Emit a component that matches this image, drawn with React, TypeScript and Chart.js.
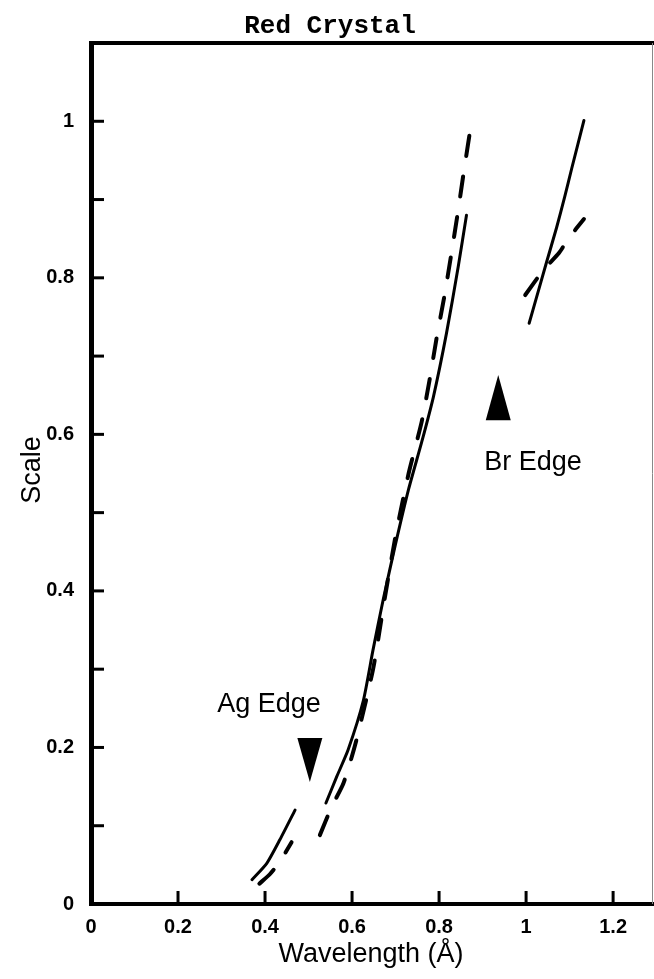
import React, { useEffect, useRef } from 'react';
import { Chart, registerables } from 'chart.js';

Chart.register(...registerables);

// ---- text ----
const chartTitle = 'Red Crystal';
const xAxisTitle = 'Wavelength (Å)';
const yAxisTitle = 'Scale';

// ---- axes ----
const xMin = 0;
const xMax = 1.294;
const yMin = 0;
const yMax = 1.1;
const xTickValues = [0, 0.2, 0.4, 0.6, 0.8, 1, 1.2];
const yTickValues = [0, 0.1, 0.2, 0.3, 0.4, 0.5, 0.6, 0.7, 0.8, 0.9, 1];
const yLabelValues = [0, 0.2, 0.4, 0.6, 0.8, 1];

// ---- series: solid curve ----
const solidAgLowX = [0.37, 0.404, 0.434, 0.469];
const solidAgLowY = [0.031, 0.052, 0.082, 0.12];
const solidAgHighX = [0.54, 0.565, 0.591, 0.626, 0.648, 0.672, 0.7, 0.73, 0.76, 0.787, 0.817, 0.844, 0.863];
const solidAgHighY = [0.129, 0.163, 0.197, 0.26, 0.324, 0.39, 0.46, 0.53, 0.59, 0.648, 0.729, 0.814, 0.88];
const solidBrX = [1.007, 1.023, 1.046, 1.07, 1.089, 1.105, 1.133];
const solidBrY = [0.742, 0.773, 0.818, 0.864, 0.904, 0.94, 1.001];

// ---- series: dashed curve ----
const dashAgLowX = [0.387, 0.411, 0.434, 0.461];
const dashAgLowY = [0.026, 0.038, 0.054, 0.079];
const dashAgHighX = [0.526, 0.553, 0.58, 0.607, 0.648, 0.675, 0.7, 0.73, 0.76, 0.778, 0.794, 0.812, 0.828, 0.843, 0.857, 0.875];
const dashAgHighY = [0.088, 0.124, 0.154, 0.203, 0.299, 0.39, 0.47, 0.55, 0.616, 0.669, 0.722, 0.776, 0.83, 0.883, 0.936, 1.001];
const dashBrX = [0.998, 1.04, 1.076, 1.097, 1.133];
const dashBrY = [0.778, 0.81, 0.832, 0.85, 0.875];

// ---- edge markers ----
const edgeNames = ['Ag Edge', 'Br Edge'];
const edgeX = [0.503, 0.936];
const edgeTipY = [0.156, 0.676];
const edgeBaseY = [0.212, 0.618];
const edgeLabelX = [0.409, 1.016];
const edgeLabelY = [0.245, 0.554];

const FONT = '"Liberation Sans", Arial, Helvetica, sans-serif';

function pts(xs: number[], ys: number[]) {
  return xs.map((x, i) => ({ x, y: ys[i] }));
}

function solid(xs: number[], ys: number[]) {
  return {
    data: pts(xs, ys),
    showLine: true,
    borderColor: '#000',
    borderWidth: 3,
    pointRadius: 0,
    tension: 0.2,
    borderCapStyle: 'round' as const,
    borderJoinStyle: 'round' as const,
  };
}

function dashed(xs: number[], ys: number[]) {
  return {
    data: pts(xs, ys),
    showLine: true,
    borderColor: '#000',
    borderWidth: 4,
    pointRadius: 0,
    borderDash: [20, 21],
    tension: 0.2,
    borderCapStyle: 'round' as const,
    borderJoinStyle: 'round' as const,
  };
}

const decorPlugin = {
  id: 'decor',
  afterDraw(chart: any) {
    const ctx = chart.ctx as CanvasRenderingContext2D;
    const xs = chart.scales.x;
    const ys = chart.scales.y;
    const area = chart.chartArea;
    ctx.save();
    // frame (top and right)
    ctx.strokeStyle = '#000';
    ctx.lineWidth = 4;
    ctx.beginPath();
    ctx.moveTo(area.left - 2, area.top);
    ctx.lineTo(area.right, area.top);
    ctx.stroke();
    ctx.strokeStyle = '#888';
    ctx.lineWidth = 1;
    ctx.beginPath();
    ctx.moveTo(area.right - 1.5, area.top);
    ctx.lineTo(area.right - 1.5, area.bottom);
    ctx.stroke();
    // inward ticks
    ctx.strokeStyle = '#000';
    ctx.lineWidth = 3;
    yTickValues.forEach((v) => {
      if (v === 0) return;
      const py = ys.getPixelForValue(v);
      ctx.beginPath();
      ctx.moveTo(area.left, py);
      ctx.lineTo(area.left + 13, py);
      ctx.stroke();
    });
    xTickValues.forEach((v) => {
      if (v === 0) return;
      const px = xs.getPixelForValue(v);
      ctx.beginPath();
      ctx.moveTo(px, area.bottom);
      ctx.lineTo(px, area.bottom - 13);
      ctx.stroke();
    });
    // edge triangles
    ctx.fillStyle = '#000';
    edgeX.forEach((ex, i) => {
      const px = xs.getPixelForValue(ex);
      const tip = ys.getPixelForValue(edgeTipY[i]);
      const base = ys.getPixelForValue(edgeBaseY[i]);
      ctx.beginPath();
      ctx.moveTo(px, tip);
      ctx.lineTo(px - 12.5, base);
      ctx.lineTo(px + 12.5, base);
      ctx.closePath();
      ctx.fill();
    });
    // edge labels
    ctx.font = `27px ${FONT}`;
    ctx.textAlign = 'center';
    ctx.textBaseline = 'alphabetic';
    edgeNames.forEach((name, i) => {
      ctx.fillText(name, xs.getPixelForValue(edgeLabelX[i]), ys.getPixelForValue(edgeLabelY[i]));
    });
    // axis titles
    ctx.textBaseline = 'middle';
    ctx.fillText(xAxisTitle, (area.left + 651) / 2, 955);
    ctx.save();
    ctx.translate(33, 470);
    ctx.rotate(-Math.PI / 2);
    ctx.fillText(yAxisTitle, 0, 0);
    ctx.restore();
    // chart title
    ctx.font = `bold 26px "Liberation Mono", "DejaVu Sans Mono", monospace`;
    ctx.fillText(chartTitle, 330, 26);
    ctx.restore();
  },
};

export default function App() {
  const ref = useRef<HTMLCanvasElement | null>(null);
  useEffect(() => {
    if (!ref.current) return;
    const chart = new Chart(ref.current, {
      type: 'scatter',
      data: {
        datasets: [
          solid(solidAgLowX, solidAgLowY),
          solid(solidAgHighX, solidAgHighY),
          solid(solidBrX, solidBrY),
          dashed(dashAgLowX, dashAgLowY),
          dashed(dashAgHighX, dashAgHighY),
          dashed(dashBrX, dashBrY),
        ] as any,
      },
      options: {
        responsive: false,
        animation: false,
        devicePixelRatio: 1,
        layout: { padding: { top: 43, right: 0, left: 0, bottom: 0 } },
        plugins: {
          legend: { display: false },
          title: { display: false },
          tooltip: { enabled: false },
        },
        scales: {
          x: {
            type: 'linear',
            min: xMin,
            max: xMax,
            afterBuildTicks: (scale: any) => {
              scale.ticks = xTickValues.map((v) => ({ value: v }));
            },
            afterFit: (scale: any) => {
              scale.height = 75;
            },
            grid: { display: false, drawTicks: false },
            border: { display: true, color: '#000', width: 4 },
            ticks: {
              padding: 11,
              color: '#000',
              maxRotation: 0,
              autoSkip: false,
              font: { family: FONT, size: 20, weight: 'bold' },
              callback: (v: any) => String(Math.round(Number(v) * 10) / 10),
            },
          },
          y: {
            type: 'linear',
            min: yMin,
            max: yMax,
            afterBuildTicks: (scale: any) => {
              scale.ticks = yLabelValues.map((v) => ({ value: v }));
            },
            afterFit: (scale: any) => {
              scale.width = 91;
            },
            grid: { display: false, drawTicks: false },
            border: { display: true, color: '#000', width: 5 },
            ticks: {
              padding: 17,
              color: '#000',
              autoSkip: false,
              font: { family: FONT, size: 20, weight: 'bold' },
              callback: (v: any) => String(Math.round(Number(v) * 10) / 10),
            },
          },
        },
      } as any,
      plugins: [decorPlugin],
    });
    return () => chart.destroy();
  }, []);
  return (
    <div style={{ position: 'absolute', left: 0, top: 0, width: 654, height: 979, background: '#fff', overflow: 'hidden' }}>
      <canvas ref={ref} width={654} height={979} style={{ display: 'block' }} />
    </div>
  );
}
